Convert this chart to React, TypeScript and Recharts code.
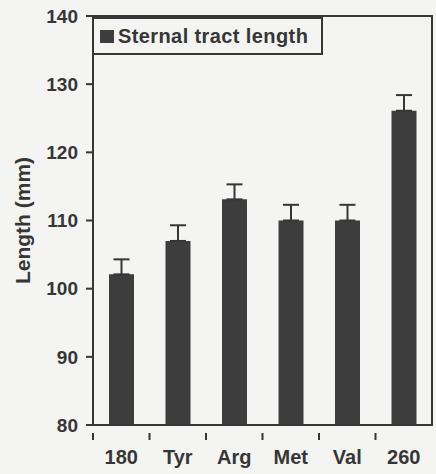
import { BarChart, Bar, XAxis, YAxis, ErrorBar, ReferenceArea } from "recharts"

// sternal tract length per group, mean with upper SD whisker
const groups = ["180", "Tyr", "Arg", "Met", "Val", "260"]
const lengths = [102.1, 107, 113.1, 110, 110, 126.1]
const sds = [2.2, 2.3, 2.2, 2.3, 2.3, 2.3]
const yTicks = [80, 90, 100, 110, 120, 130, 140]
const seriesName = "Sternal tract length"

const ink = "#363636"
const barFill = "#3d3d3d"
const paper = "#f4f4f2"
const font = "Arial, 'Liberation Sans', sans-serif"

const data = groups.map((group, i) => ({
  group,
  length: lengths[i],
  sd: [0, sds[i]],
}))

// category label centred under the bar, tick mark on the band edge
function GroupTick(props: any) {
  const { x, y, payload } = props
  const half = payload?.offset || 28.25
  return (
    <g>
      <line x1={x - half} x2={x - half} y1={y} y2={y + 7} stroke={ink} strokeWidth={2} />
      <text
        x={x}
        y={y + 31}
        textAnchor="middle"
        fill={ink}
        fontSize={20}
        fontWeight="bold"
        fontFamily={font}
      >
        {payload.value}
      </text>
    </g>
  )
}

function LegendBox() {
  return (
    <div
      style={{
        position: "absolute",
        left: 92,
        top: 17,
        width: 227,
        height: 34,
        border: `2px solid ${ink}`,
        background: paper,
        display: "flex",
        alignItems: "center",
      }}
    >
      <span style={{ width: 14, height: 13, background: barFill, marginLeft: 6, marginRight: 4 }} />
      <span style={{ fontFamily: font, fontWeight: "bold", fontSize: 20, color: ink, letterSpacing: 0.4 }}>
        {seriesName}
      </span>
    </div>
  )
}

export default function App() {
  return (
    <div style={{ position: "absolute", left: 0, top: 0, width: 436, height: 474, background: paper }}>
      <BarChart width={436} height={474} data={data} margin={{ top: 16, right: 4, left: 0, bottom: 19 }}>
        <XAxis
          dataKey="group"
          height={30}
          axisLine={{ stroke: ink, strokeWidth: 2 }}
          tickLine={false}
          tick={<GroupTick />}
          interval={0}
        />
        <YAxis
          domain={[80, 140]}
          ticks={yTicks}
          width={93}
          axisLine={{ stroke: ink, strokeWidth: 2 }}
          tickLine={{ stroke: ink, strokeWidth: 2 }}
          tickSize={7}
          tickMargin={8}
          tick={{ fill: ink, fontSize: 19, fontWeight: "bold", fontFamily: font }}
          label={{
            value: "Length (mm)",
            angle: -90,
            position: "center",
            dx: -24,
            fill: ink,
            fontSize: 21,
            fontWeight: "bold",
            fontFamily: font,
          }}
        />
        {/* plot frame: spans the full y domain and every category */}
        <ReferenceArea
          y1={80}
          y2={140}
          ifOverflow="visible"
          fill={paper}
          fillOpacity={0}
          stroke={ink}
          strokeWidth={2}
        />
        <Bar dataKey="length" name={seriesName} fill={barFill} barSize={25} isAnimationActive={false}>
          <ErrorBar dataKey="sd" width={8} stroke={ink} strokeWidth={2} direction="y" />
        </Bar>
      </BarChart>
      <LegendBox />
    </div>
  )
}
